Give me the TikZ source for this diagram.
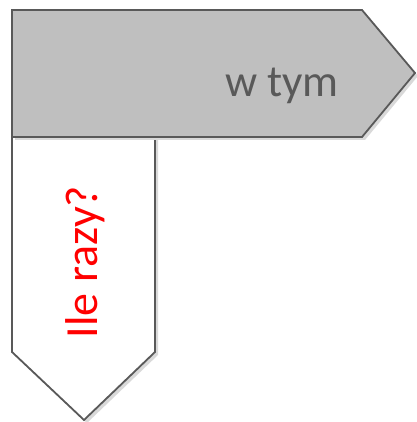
\documentclass[tikz,border=0pt]{standalone}
\usepackage{fontspec}
\setmainfont{Carlito}
\usepackage{tikz}

\definecolor{edgegray}{HTML}{595959}
\definecolor{boxgray}{HTML}{BFBFBF}
\definecolor{shadowgray}{HTML}{D9D9D9}

\begin{document}
\begin{tikzpicture}[x=1pt, y=1pt,
		every path/.style={line width=1.8pt, line join=miter},
		shadowpath/.style={draw=none, fill=shadowgray},
		arrowbox/.style={draw=edgegray}]
			\useasboundingbox (0,0) rectangle (416,422);
			% down arrow
			\path[shadowpath] (15,282) -- (158,282) -- (158,67) -- (87,-1) -- (15,67) -- cycle;
			\path[arrowbox, fill=white] (12,285) -- (155,285) -- (155,70) -- (84,2) -- (12,70) -- cycle;
			% right arrow
			\path[shadowpath] (15,409) -- (365,409) -- (418,346) -- (365,282) -- (15,282) -- cycle;
			\path[arrowbox, fill=boxgray] (12,412) -- (362,412) -- (415,349) -- (362,285) -- (12,285) -- cycle;
			
			\node[anchor=base, text=edgegray, font=\fontsize{45}{45}\selectfont] (wtym) at (282,325) {w tym};
			\node[anchor=base, rotate=90, text=red, font=\fontsize{46}{46}\selectfont] (ilerazy) at (97,160) {Ile razy?};
			\end{tikzpicture}
\end{document}
